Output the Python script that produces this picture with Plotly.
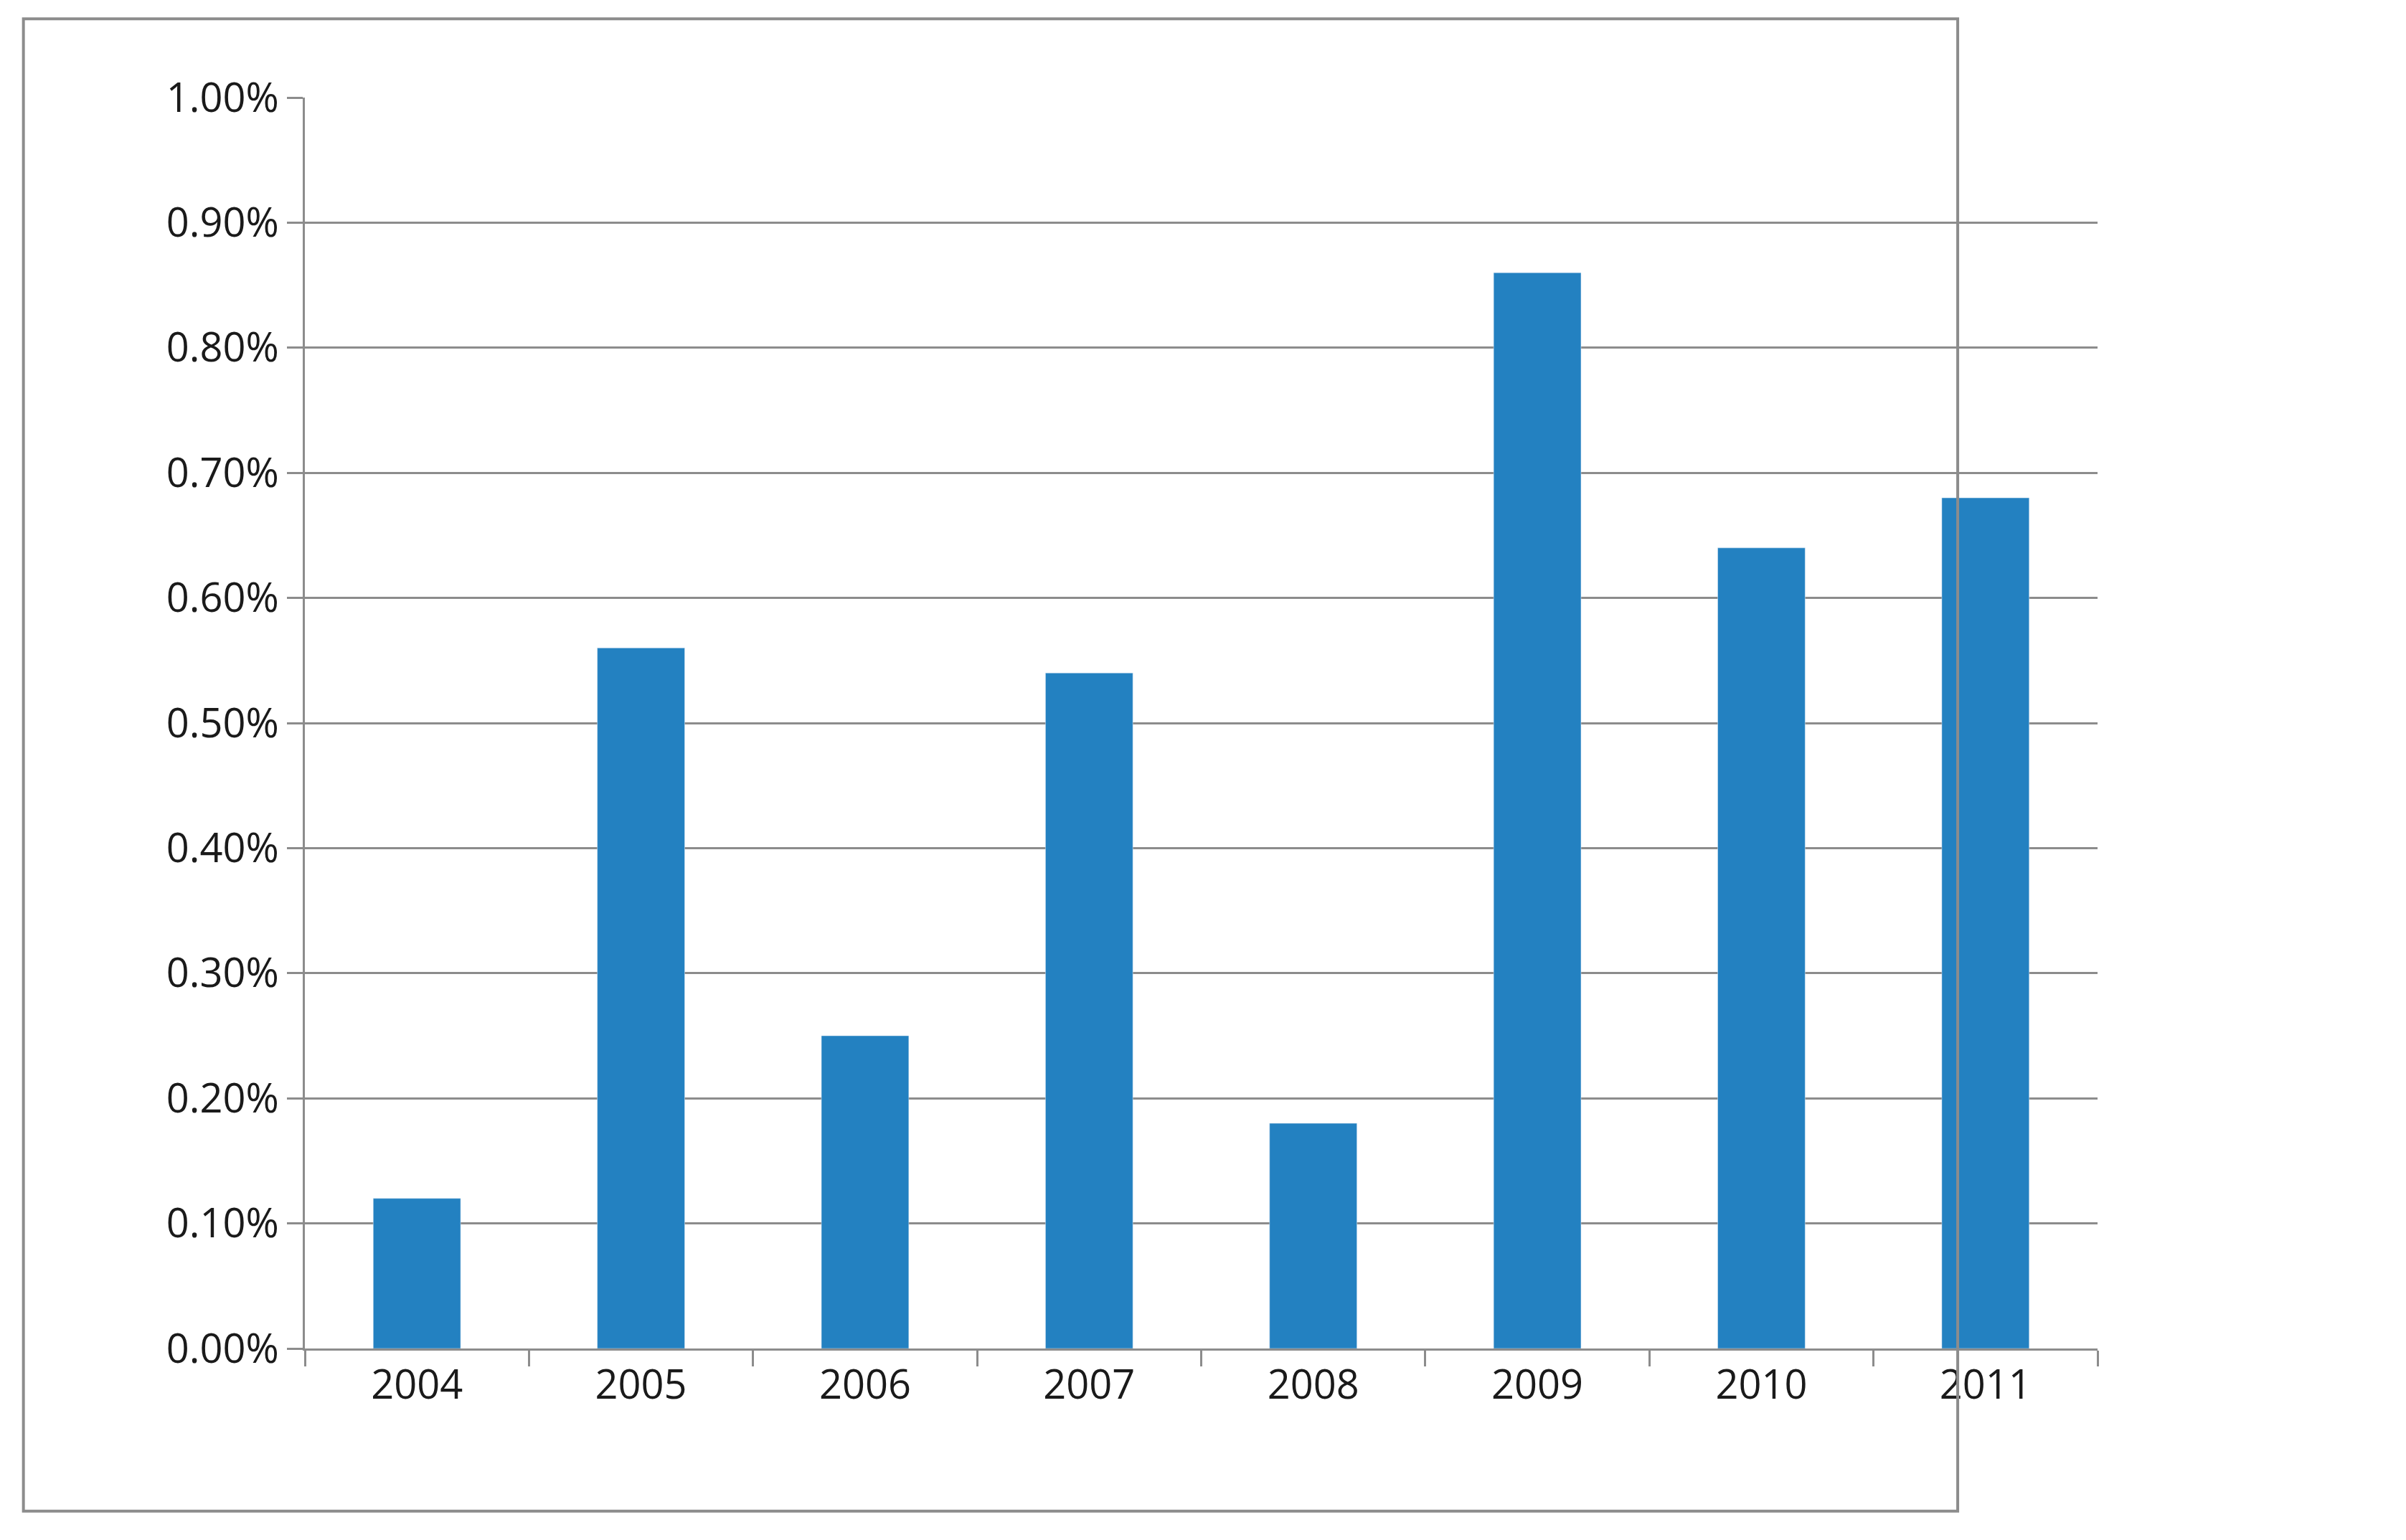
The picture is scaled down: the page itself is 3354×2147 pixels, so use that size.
import plotly.graph_objects as go

years = ["2004", "2005", "2006", "2007", "2008", "2009", "2010", "2011"]
rates = [0.0012, 0.0056, 0.0025, 0.0054, 0.0018, 0.0086, 0.0064, 0.0068]

fig = go.Figure(go.Bar(x=years, y=rates, marker_color="#2381C1", width=0.39))

fig.update_layout(
    width=3354, height=2147,
    paper_bgcolor="white", plot_bgcolor="white",
    margin=dict(l=417, r=438, t=128, b=275),
    font=dict(family="Open Sans, Liberation Sans, sans-serif", size=56, color="#1a1a1a"),
    showlegend=False,
    bargap=0.61,
)
fig.update_yaxes(
    range=[0, 0.01], dtick=0.001, tickformat=".2%",
    showgrid=True, gridcolor="#8c8c8c", gridwidth=3,
    showline=True, linecolor="#8c8c8c", linewidth=3,
    ticks="outside", ticklen=22, tickcolor="#8c8c8c", tickwidth=3,
    zeroline=False,
)
fig.update_xaxes(
    showline=True, linecolor="#8c8c8c", linewidth=3,
    ticks="outside", tickson="boundaries", ticklen=22,
    tickcolor="#8c8c8c", tickwidth=3,
)
fig.add_shape(type="rect", xref="paper", yref="paper",
              x0=-0.157, x1=0.922, y0=-0.13, y1=1.063,
              line=dict(color="#8c8c8c", width=4))

fig.write_html("out.html")
